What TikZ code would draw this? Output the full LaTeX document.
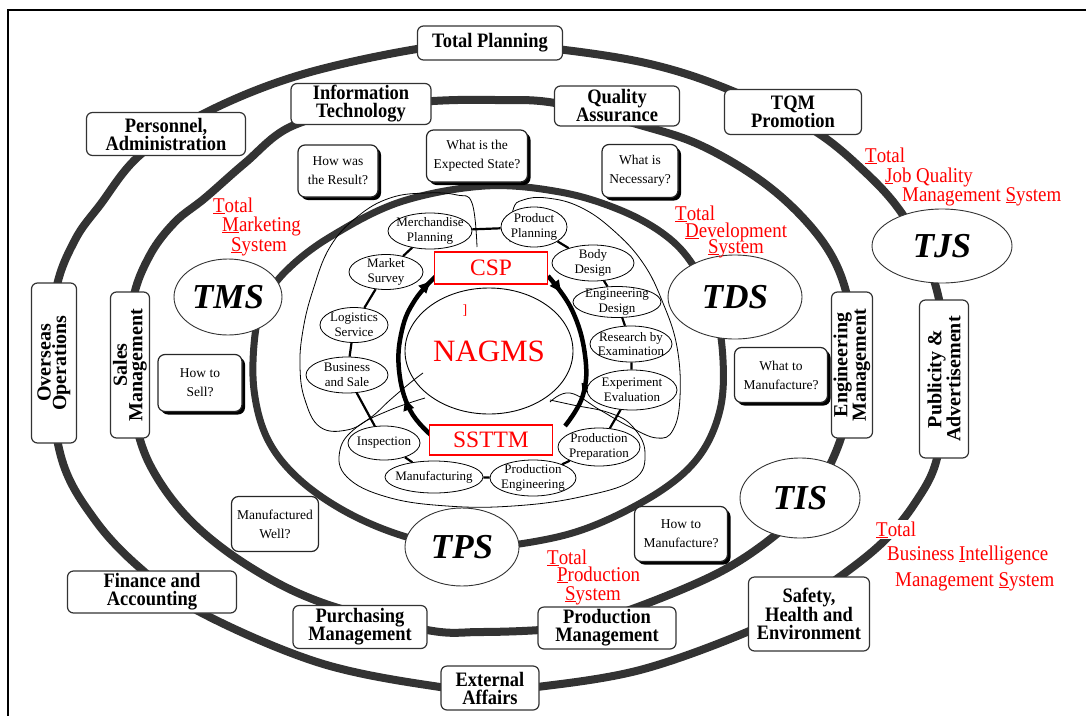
\documentclass[tikz,border=0pt]{standalone}
\usepackage{fontspec}
\setmainfont{Liberation Serif}
\newfontfamily\condserif{Liberation Serif}[FakeStretch=0.9]
\usetikzlibrary{shapes.geometric,decorations.markings,arrows.meta,shadows}

\definecolor{ringgray}{HTML}{333333}
\definecolor{sysred}{HTML}{FF0000}

\begin{document}
\begin{tikzpicture}[x=1pt,y=-1pt,
  ring/.style={draw=ringgray, line width=8pt},
  dept/.style={draw=black!80, line width=1.2pt, rounded corners=6pt, fill=white, align=center, inner sep=1pt,
    font=\condserif\fontsize{20.5}{18}\selectfont\bfseries},
  vdept/.style={dept, rotate=90, font=\fontsize{20}{15.5}\selectfont\bfseries},
  ques/.style={draw=black!85, line width=1.2pt, rounded corners=7pt, fill=white, align=center, inner sep=1pt,
    font=\fontsize{13.5}{19}\selectfont},
  shad/.style={drop shadow={shadow xshift=3pt, shadow yshift=-3pt, fill=black, opacity=1}},
  bigsys/.style={ellipse, draw=black!80, line width=0.9pt, fill=white, inner sep=0pt,
    font=\fontsize{35}{35}\selectfont\bfseries\itshape},
  func/.style={ellipse, draw=black, line width=0.8pt, fill=white, inner sep=0pt},
  ftext/.style={align=center, inner sep=0pt, font=\fontsize{13}{14.5}\selectfont},
  link/.style={line width=2.2pt},
  loopline/.style={line width=0.8pt},
  cyc/.style={line width=4.5pt, >={Latex[length=14pt,width=12pt]}},
  redlbl/.style={text=sysred, anchor=base west, inner sep=0pt, font=\condserif\fontsize{21}{20}\selectfont},
  redbox/.style={draw=sysred, line width=1.3pt, fill=white, inner sep=0pt, text=sysred,
    font=\fontsize{23.5}{23.5}\selectfont},
]
\useasboundingbox (0,0) rectangle (1086,715);

% frame
\draw[line width=1.5pt] (1100,10) -- (8,10) -- (8,730);

% the three concentric management rings
\draw[ring] plot[smooth cycle, tension=0.6] coordinates {
  (490,44) (565,50) (650,64) (725,88) (810,128) (865,172) (903,215) (930,268) (944,330)
  (944,400) (936,462) (915,503) (885,540) (845,573) (800,603) (747,632) (640,670) (537,687)
  (490,689) (440,687) (320,663) (200,612) (140,568) (95,520) (62,460) (50,370) (56,290)
  (75,240) (100,205) (140,155) (207,112) (300,75) (417,49)};
\draw[ring] plot[smooth cycle, tension=0.6] coordinates {
  (495,100) (555,103) (640,125) (700,145) (760,180) (805,220) (835,262) (850,310) (853,365)
  (846,420) (830,465) (805,505) (773,537) (720,572) (643,605) (580,625) (540,630) (480,632)
  (427,630) (323,603) (250,567) (190,520) (150,465) (133,410) (130,365) (133,300) (150,255)
  (175,222) (205,198) (245,163) (290,127) (360,108) (433,101)};
\draw[ring, line width=7pt] plot[smooth cycle, tension=0.6] coordinates {
  (485,186) (560,192) (620,210) (665,235) (693,265) (715,310) (723,360) (720,410) (700,455)
  (662,490) (600,523) (543,540) (470,548) (410,538) (350,514) (300,480) (268,440) (254,390)
  (255,335) (265,300) (287,270) (330,237) (400,202)};

% thin group outlines
\draw[loopline] plot[smooth, tension=0.7] coordinates {
  (423,373) (410,383) (390,400) (370,418) (347,430) (320,427) (305,400) (300,367) (303,330)
  (313,290) (330,247) (357,217) (390,198) (427,193) (457,195) (472,203) (477,247)};
\draw[loopline] plot[smooth, tension=0.7] coordinates {
  (510,242) (513,210) (523,200) (547,198) (580,207) (613,230) (643,263) (663,303) (677,347)
  (680,397) (673,430) (657,438) (630,427) (600,410) (570,393) (550,402)};
\draw[loopline] plot[smooth, tension=0.7] coordinates {
  (425,398) (390,410) (357,427) (340,450) (347,477) (387,497) (447,506) (513,506) (580,497)
  (633,480) (645,453) (633,427) (610,413) (573,405) (550,400)};

% core cycle with arrows
\draw[cyc, postaction={decorate}, decoration={markings,
    mark=at position 0.14 with {\arrow{>}}, mark=at position 0.8 with {\arrow{>}}}]
  plot[smooth, tension=0.7] coordinates {(548,276) (572,310) (585,355) (583,395) (565,426)};
\draw[cyc, postaction={decorate}, decoration={markings,
    mark=at position 0.27 with {\arrow{>}}, mark=at position 0.97 with {\arrow{>}}}]
  plot[smooth, tension=0.7] coordinates {(432,436) (410,410) (399,370) (402,330) (415,300) (436,276)};
\node[ellipse, draw=black, line width=0.9pt, minimum width=168, minimum height=126, inner sep=0pt,
  text=sysred, font=\fontsize{31}{31}\selectfont] (nagms) at (489,351) {NAGMS};
\node[text=sysred, inner sep=0pt, font=\fontsize{14}{14}\selectfont] (mark1) at (465,311) {]};

% functional spheres
\node[func, minimum width=84, minimum height=36, label={[ftext]center:{Merchandise\\Planning}}] (merch) at (430,231) {};
\node[func, minimum width=66, minimum height=40, label={[ftext]center:{Product\\Planning}}] (pplan) at (534,227) {};
\node[func, minimum width=82, minimum height=36, label={[ftext]center:{Body\\Design}}] (body) at (593,263) {};
\node[func, minimum width=88, minimum height=31, label={[ftext]center:{Engineering\\Design}}] (engd) at (617,302) {};
\node[func, minimum width=82, minimum height=36, label={[ftext]center:{Research by\\Examination}}] (res) at (631,344) {};
\node[func, minimum width=90, minimum height=40, label={[ftext]center:{Experiment\\Evaluation}}] (exper) at (632,390) {};
\node[func, minimum width=82, minimum height=38, label={[ftext]center:{Production\\Preparation}}] (pprep) at (599,447) {};
\node[func, minimum width=86, minimum height=36, label={[ftext]center:{Production\\Engineering}}] (peng) at (533,478) {};
\node[func, minimum width=98, minimum height=32, label={[ftext]center:{Manufacturing}}] (manu) at (434,477) {};
\node[func, minimum width=72, minimum height=34, label={[ftext]center:{Inspection}}] (insp) at (384,443) {};
\node[func, minimum width=82, minimum height=36, label={[ftext]center:{Business\\and Sale}}] (bus) at (347,375) {};
\node[func, minimum width=68, minimum height=35, label={[ftext]center:{Logistics\\Service}}] (logi) at (354,325) {};
\node[func, minimum width=74, minimum height=35, label={[ftext]center:{Market\\Survey}}] (msurv) at (386,272) {};

\foreach \a/\b in {merch/pplan, pplan/body, body/engd, engd/res, res/exper, exper/pprep,
  pprep/peng, peng/manu, manu/insp, insp/bus, bus/logi, logi/msurv, msurv/merch}
  \draw[link] (\a) -- (\b);

% CSP and SSTTM
\node[redbox, minimum width=113, minimum height=32] (csp) at (491,268) {CSP};
\node[redbox, minimum width=123, minimum height=30] (ssttm) at (491,440) {SSTTM};

% departments on the rings
\node[dept, minimum width=145, minimum height=34] (plan) at (490,43) {Total Planning};
\node[dept, minimum width=140, minimum height=41] (it) at (361,104) {Information\\Technology};
\node[dept, minimum width=125, minimum height=40] (qa) at (617,106) {Quality\\Assurance};
\node[dept, minimum width=137, minimum height=45] (tqm) at (793,112) {TQM\\Promotion};
\node[dept, minimum width=159, minimum height=43] (pers) at (166,134) {Personnel,\\Administration};
\node[vdept, minimum width=160, minimum height=45] (over) at (54,363) {Overseas\\Operations};
\node[vdept, minimum width=146, minimum height=39] (sales) at (130,365) {Sales\\Management};
\node[vdept, minimum width=146, minimum height=41] (engm) at (852,365) {Engineering\\Management};
\node[vdept, minimum width=158, minimum height=49] (pub) at (944,379) {Publicity \&\\Advertisement};
\node[dept, minimum width=169, minimum height=42] (fin) at (152,592) {Finance and\\Accounting};
\node[dept, minimum width=134, minimum height=43] (purch) at (360,627) {Purchasing\\Management};
\node[dept, minimum width=98, minimum height=44] (ext) at (490,688) {External\\Affairs};
\node[dept, minimum width=138, minimum height=42] (prodm) at (607,628) {Production\\Management};
\node[dept, minimum width=121, minimum height=74] (safe) at (809,614) {Safety,\\Health and\\Environment};

% guiding questions
\node[ques, shad, minimum width=80, minimum height=52] (qres) at (338,171) {How was\\the Result?};
\node[ques, shad, minimum width=101, minimum height=52] (qexp) at (477,156) {What is the\\Expected State?};
\node[ques, shad, minimum width=76, minimum height=53] (qnec) at (640,171) {What is\\Necessary?};
\node[ques, shad, minimum width=84, minimum height=57] (qsell) at (200,383) {How to\\Sell?};
\node[ques, shad, minimum width=93, minimum height=55] (qwhat) at (781,375) {What to\\Manufacture?};
\node[ques, minimum width=87, minimum height=55] (qwell) at (275,524) {Manufactured\\Well?};
\node[ques, shad, minimum width=93, minimum height=55] (qhow) at (681,534) {How to\\Manufacture?};

% total systems
\node[bigsys, minimum width=108, minimum height=76] (tms) at (228,297) {TMS};
\node[bigsys, minimum width=134, minimum height=84] (tds) at (735,297) {TDS};
\node[bigsys, minimum width=114, minimum height=78] (tps) at (462,547) {TPS};
\node[bigsys, minimum width=120, minimum height=80] (tis) at (800,498) {TIS};
\node[bigsys, minimum width=140, minimum height=74] (tjs) at (942,246) {TJS};

% system names
\node[redlbl] (tms1) at (213,212) {\underline{T}otal};
\node[redlbl] (tms2) at (222,231) {\underline{M}arketing};
\node[redlbl] (tms3) at (231,251) {\underline{S}ystem};
\node[redlbl] (tds1) at (675,220) {\underline{T}otal};
\node[redlbl] (tds2) at (685,237) {\underline{D}evelopment};
\node[redlbl] (tds3) at (708,253) {\underline{S}ystem};
\node[redlbl] (tjs1) at (865,162) {\underline{T}otal};
\node[redlbl] (tjs2) at (885,182) {\underline{J}ob Quality};
\node[redlbl] (tjs3) at (902,201) {Management \underline{S}ystem};
\node[redlbl, fill=white, inner sep=1pt] (tis1) at (875,536) {\underline{T}otal};
\node[redlbl] (tis2) at (887,560) {Business \underline{I}ntelligence};
\node[redlbl] (tis3) at (895,586) {Management \underline{S}ystem};
\node[redlbl] (tps1) at (547,564) {\underline{T}otal};
\node[redlbl] (tps2) at (557,581) {\underline{P}roduction};
\node[redlbl] (tps3) at (565,600) {\underline{S}ystem};
\end{tikzpicture}
\end{document}
